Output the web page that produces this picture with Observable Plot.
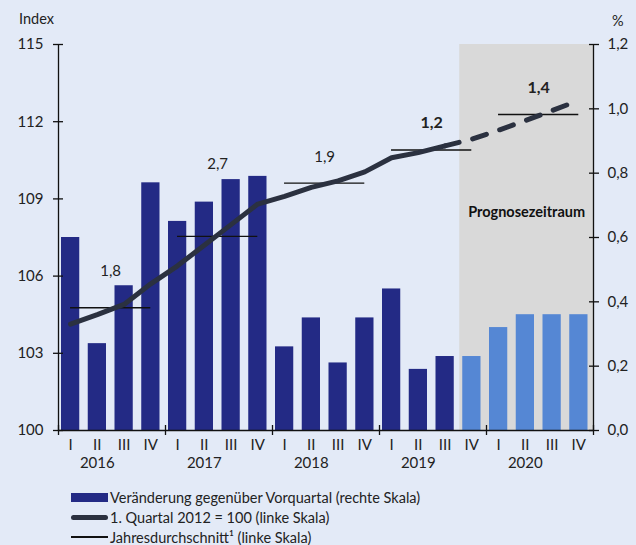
<!DOCTYPE html>
<html>
<head>
<meta charset="utf-8">
<script src="https://cdn.jsdelivr.net/npm/d3@7"></script>
<script src="https://cdn.jsdelivr.net/npm/@observablehq/plot@0.6"></script>
<style>
  html, body { margin: 0; padding: 0; background: #e3eaf7; }
  #wrap { position: relative; width: 636px; height: 545px; background: #e3eaf7; font-family: Lato, "DejaVu Sans", sans-serif; color: #222; overflow: hidden; }
  #chart { position: absolute; left: 0; top: 0; }
  .lab { position: absolute; font-size: 14.5px; line-height: 1; }
  #legend { position: absolute; left: 71px; top: 487px; font-size: 14.5px; }
  .row { display: flex; align-items: center; height: 20px; }
  .sw { width: 37px; margin-right: 2px; display: flex; align-items: center; justify-content: center; height: 20px; }
</style>
</head>
<body>
<div id="wrap">
  <div id="chart"></div>
  <div class="lab" style="left:19px; top:12px;">Index</div>
  <div class="lab" style="left:612px; top:14px;">%</div>
  <div id="legend">
    <div class="row"><div class="sw"><div style="width:37px;height:9px;background:#232a85"></div></div><span>Veränderung gegenüber Vorquartal (rechte Skala)</span></div>
    <div class="row"><div class="sw"><div style="width:37px;height:5px;border-radius:3px;background:#2b3140"></div></div><span>1. Quartal 2012 = 100 (linke Skala)</span></div>
    <div class="row"><div class="sw"><div style="width:37px;height:1.3px;background:#111"></div></div><span>Jahresdurchschnitt¹ (linke Skala)</span></div>
  </div>
</div>
<script>
// Quarter labels and years
const quarterLabels = ["I","II","III","IV","I","II","III","IV","I","II","III","IV","I","II","III","IV","I","II","III","IV"];
const years = ["2016","2017","2018","2019","2020"];
// Quarter-on-quarter change in % (right scale); last 5 are forecast
const changePct = [0.60,0.27,0.45,0.77,0.65,0.71,0.78,0.79,0.26,0.35,0.21,0.35,0.44,0.19,0.23,0.23,0.32,0.36,0.36,0.36];
const forecastFlag = [0,0,0,0,0,0,0,0,0,0,0,0,0,0,0,1,1,1,1,1];
// Index level, Q1 2012 = 100 (left scale)
const indexLevel = [104.13,104.5,104.9,105.7,106.4,107.2,108.0,108.8,109.1,109.45,109.7,110.05,110.6,110.8,111.06,111.32,111.67,112.04,112.43,112.83];
// Annual averages (left scale) and annual growth labels
const annualAvg = [104.77,107.54,109.61,110.9,112.28];
const annualGrowth = ["1,8","2,7","1,9","1,2","1,4"];
const growthBold = [false,false,false,true,true];
// Axis ticks
const leftTicks = [100,103,106,109,112,115];
const rightTicks = [0,0.2,0.4,0.6,0.8,1.0,1.2];

const toLeft = v => 100 + v * 12.5; // right scale (0..1.2) mapped onto left (100..115)
const fmt = d3.format(".1f");
const off = 0.45; // quarter centre within its slot

const bars = changePct.map((v, i) => ({i, v, f: forecastFlag[i]}));
const pts = indexLevel.map((v, i) => ({i, v}));
const solid = pts.slice(0, 15);
const dashed = pts.slice(14);
const avgs = annualAvg.map((v, k) => ({k, v, t: annualGrowth[k], b: growthBold[k]}));
const labelDy = [-37, -72, -26, -27, -27];

const growthLabels = avgs.map(d => Plot.text([d], {
  x: d => d.k * 4 + 1.95, y: "v", text: "t", dy: labelDy[d.k],
  fontWeight: d.b ? "bold" : "normal", fontSize: d.b ? 16 : 15, fill: "#222"
}));

const chart = Plot.plot({
  width: 636,
  height: 480,
  marginLeft: 58,
  marginRight: 43,
  marginTop: 44,
  marginBottom: 50,
  x: {domain: [0, 20], axis: null},
  y: {domain: [100, 115], axis: null},
  style: {background: "transparent", fontFamily: "Lato, 'DejaVu Sans', sans-serif", fontSize: "15px", color: "#222"},
  marks: [
    Plot.rect([{a: 15, b: 20}], {x1: "a", x2: "b", y1: 100, y2: 115, fill: "#d9d9d9"}),
    Plot.rectY(bars, {x1: d => d.i, x2: d => d.i + 1, y1: 100, y2: d => toLeft(d.v), insetLeft: 3, insetRight: 5.5,
      fill: d => d.f ? "#5587d4" : "#232a85"}),
    Plot.text(["Prognosezeitraum"], {x: 17.5, y: 108.46, text: d => d, fontWeight: "bold", fontSize: 14.5, fill: "#111"}),
    Plot.ruleY(avgs, {y: "v", x1: d => d.k * 4 + off, x2: d => d.k * 4 + 3 + off, stroke: "#111", strokeWidth: 1.3}),
    Plot.line(solid, {x: d => d.i + off, y: "v", stroke: "#2b3140", strokeWidth: 5, strokeLinejoin: "round", strokeLinecap: "round"}),
    Plot.line(dashed, {x: d => d.i + off, y: "v", stroke: "#2b3140", strokeWidth: 5, strokeLinejoin: "round", strokeLinecap: "round", strokeDasharray: "14.5,14"}),
    ...growthLabels,
    // axes lines
    Plot.ruleX([0, 20], {stroke: "#111", strokeWidth: 1.3}),
    Plot.ruleY([100], {stroke: "#111", strokeWidth: 1.3}),
    Plot.axisY({anchor: "left", label: null, ticks: leftTicks, tickSize: 10, dx: 5, tickPadding: 10, tickFormat: d => String(d), fontSize: 15, stroke: "#111", strokeWidth: 1.3}),
    Plot.axisY({anchor: "right", label: null, ticks: rightTicks.map(toLeft), tickSize: 10, dx: -5, tickPadding: 9, tickFormat: d => fmt((d - 100) / 12.5).replace(".", ","), fontSize: 15, stroke: "#111", strokeWidth: 1.3}),
    Plot.axisX({anchor: "bottom", label: null, ticks: [0, 4, 8, 12, 16, 20], tickSize: 10, dy: -5, tickFormat: () => "", stroke: "#111", strokeWidth: 1.3}),
    Plot.text(quarterLabels, {x: (d, i) => i + off, frameAnchor: "bottom", dy: 19, text: d => d, fontSize: 15, fill: "#222"}),
    Plot.text(years, {x: (d, i) => i * 4 + 1.45, frameAnchor: "bottom", dy: 37, text: d => d, fontSize: 15, fill: "#222"})
  ]
});
document.getElementById("chart").appendChild(chart);
</script>
</body>
</html>
